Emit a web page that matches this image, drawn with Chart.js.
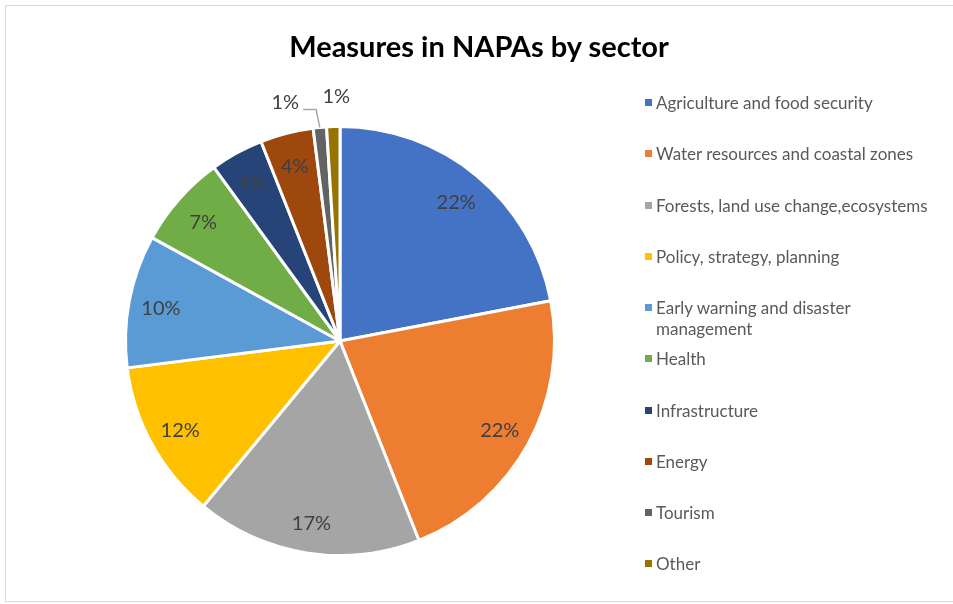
<!DOCTYPE html>
<html>
<head>
<meta charset="utf-8">
<script src="https://cdn.jsdelivr.net/npm/chart.js@4"></script>
<style>
  html, body { margin: 0; padding: 0; background: #fff; }
  #wrap { position: relative; width: 953px; height: 604px; overflow: hidden; }
  #frame { position: absolute; left: 5px; top: 5px; width: 960px; height: 597px; border: 1px solid #d9d9d9; box-sizing: border-box; }
  #grafico { position: absolute; left: 0; top: 0; }
  #titulo { position: absolute; left: 0; width: 958px; top: 28px; text-align: center; font-family: Lato, sans-serif; font-weight: bold; font-size: 29px; line-height: 36px; color: #000; }
  #leyenda { position: absolute; left: 645px; top: 0; font-family: Lato, sans-serif; font-size: 17px; color: #595959; }
  #leyenda .item { position: absolute; left: 0; width: 300px; line-height: 21px; padding-left: 11px; white-space: nowrap; }
  #leyenda .item span.mk { position: absolute; left: 0; top: 7px; width: 7px; height: 7px; }
</style>
</head>
<body>
<div id="wrap">
  <div id="frame"></div>
  <canvas id="grafico" width="953" height="604"></canvas>
  <div id="titulo">Measures in NAPAs by sector</div>
  <div id="leyenda"></div>
</div>
<script>
// Datos
const sectores = ['Agriculture and food security', 'Water resources and coastal zones',
  'Forests, land use change,ecosystems', 'Policy, strategy, planning',
  'Early warning and disaster management', 'Health', 'Infrastructure', 'Energy', 'Tourism', 'Other'];
const porcentajes = [22, 22, 17, 12, 10, 7, 4, 4, 1, 1];
const colores = ['#4472C4', '#ED7D31', '#A5A5A5', '#FFC000', '#5B9BD5', '#70AD47', '#264478', '#9E480E', '#636363', '#997300'];

// Leyenda (HTML, la etiqueta larga va en dos lineas)
const leyenda = document.getElementById('leyenda');
const yLeyenda = [92, 143, 195, 246, 297, 348, 400, 451, 502, 553];
sectores.forEach((s, i) => {
    const d = document.createElement('div');
    d.className = 'item';
    d.style.top = yLeyenda[i] + 'px';
    let txt = s;
    if (s.startsWith('Early warning')) txt = 'Early warning and disaster<br>management';
    d.innerHTML = '<span class="mk" style="background:' + colores[i] + '"></span>' + txt;
    leyenda.appendChild(d);
});

// Etiquetas de porcentaje sobre cada porcion
const etiquetas = {
    id: 'etiquetas',
    afterDatasetsDraw(chart) {
        const ctx = chart.ctx;
        const arcs = chart.getDatasetMeta(0).data;
        ctx.save();
        ctx.font = '20px Lato, sans-serif';
        ctx.fillStyle = '#404040';
        ctx.textBaseline = 'middle';
        arcs.forEach((arc, i) => {
            const v = porcentajes[i];
            const mid = (arc.startAngle + arc.endAngle) / 2;
            const r = arc.outerRadius;
            const txt = v + '%';
            if (v >= 2) {
                ctx.textAlign = 'center';
                ctx.fillText(txt, arc.x + Math.cos(mid) * r * 0.85, arc.y + Math.sin(mid) * r * 0.85 + 2);
            } else if (i === sectores.length - 1) {
                ctx.textAlign = 'center';
                ctx.fillText(txt, arc.x + Math.cos(mid) * (r + 30) + 4, arc.y + Math.sin(mid) * (r + 30));
            } else {
                // linea guia
                const x0 = arc.x + Math.cos(mid) * r, y0 = arc.y + Math.sin(mid) * r;
                const x1 = arc.x + Math.cos(mid) * (r + 18) - 2, y1 = arc.y + Math.sin(mid) * (r + 18);
                ctx.strokeStyle = '#a6a6a6';
                ctx.lineWidth = 1.5;
                ctx.beginPath();
                ctx.moveTo(x0, y0);
                ctx.lineTo(x1, y1);
                ctx.lineTo(x1 - 13, y1);
                ctx.stroke();
                ctx.textAlign = 'right';
                ctx.fillText(txt, x1 - 17, y1 - 7);
            }
        });
        ctx.restore();
    }
};

const ctxPie = document.getElementById('grafico').getContext('2d');
new Chart(ctxPie, {
    type: 'pie',
    data: {
        labels: sectores,
        datasets: [{
            data: porcentajes,
            backgroundColor: colores,
            borderColor: '#ffffff',
            borderWidth: 3
        }]
    },
    options: {
        responsive: false,
        animation: false,
        layout: { padding: { left: 124, right: 397, top: 125, bottom: 47 } },
        plugins: {
            legend: { display: false },
            tooltip: { enabled: false },
            title: { display: false }
        }
    },
    plugins: [etiquetas]
});
</script>
</body>
</html>
